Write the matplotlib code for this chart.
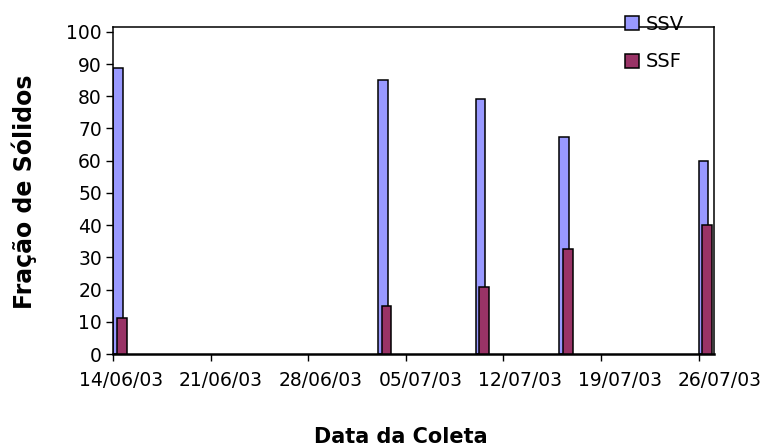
import datetime as dt

import matplotlib
matplotlib.use("Agg")
import matplotlib.pyplot as plt
import matplotlib.dates as mdates
from matplotlib.patches import Patch
from matplotlib.transforms import ScaledTranslation

# collection dates and solids fractions (%)
dates = ["14/06/03", "03/07/03", "10/07/03", "16/07/03", "26/07/03"]
ssv = [88.7, 85.0, 79.3, 67.4, 59.9]
ssf = [11.3, 15.0, 20.7, 32.6, 40.1]

SSV_COLOR = "#9999FF"
SSF_COLOR = "#993366"

plt.rcParams["font.family"] = "DejaVu Sans"

days = [dt.datetime.strptime(d, "%d/%m/%y") for d in dates]
x = mdates.date2num(days)
start = x[0]

fig = plt.figure(figsize=(7.67, 4.46), dpi=100)
ax = fig.add_axes([113 / 767, 1 - 354 / 446, 601 / 767, 327.3 / 446])

# each date takes a one-day slot; the two series overlap inside it
ax.bar(x + 0.02, ssv, width=0.68, align="edge", color=SSV_COLOR,
       edgecolor="black", linewidth=1.1, zorder=2)
ax.bar(x + 0.27, ssf, width=0.70, align="edge", color=SSF_COLOR,
       edgecolor="black", linewidth=1.1, zorder=3)

ax.set_xlim(start, start + 43.1)
ax.set_ylim(0, 101.6)
ax.set_yticks(range(0, 101, 10))
ax.set_xticks([start + 7 * k for k in range(7)])
ax.xaxis.set_major_formatter(mdates.DateFormatter("%d/%m/%y"))
ax.tick_params(axis="both", direction="out", length=5, width=1,
               labelsize=13.5, color="black")
ax.tick_params(axis="x", pad=7)
ax.tick_params(axis="y", pad=3)

# date labels drift a little to the right along the axis
for k, lbl in enumerate(ax.get_xticklabels()):
    shift = (8 + 2.2 * k) / 100
    lbl.set_transform(lbl.get_transform()
                      + ScaledTranslation(shift, 0, fig.dpi_scale_trans))

for s in ax.spines.values():
    s.set_linewidth(1.1)
ax.spines["bottom"].set_linewidth(1.8)

fig.text(24 / 767, 1 - 192 / 446, "Fração de Sólidos", rotation=90,
         ha="center", va="center", fontsize=17, fontweight="bold")
fig.text(314 / 767, 1 - 443 / 446, "Data da Coleta",
         ha="left", va="baseline", fontsize=15, fontweight="bold")

handles = [Patch(facecolor=SSV_COLOR, edgecolor="black", linewidth=1.1),
           Patch(facecolor=SSF_COLOR, edgecolor="black", linewidth=1.1)]
fig.legend(handles, ["SSV", "SSF"], loc="upper left",
           bbox_to_anchor=(625 / 767, 1 - 15 / 446), frameon=False,
           fontsize=14, handlelength=0.72, handleheight=0.72,
           handletextpad=0.35, labelspacing=0.95, borderpad=0,
           borderaxespad=0)

fig.savefig("out.png", dpi=100)
